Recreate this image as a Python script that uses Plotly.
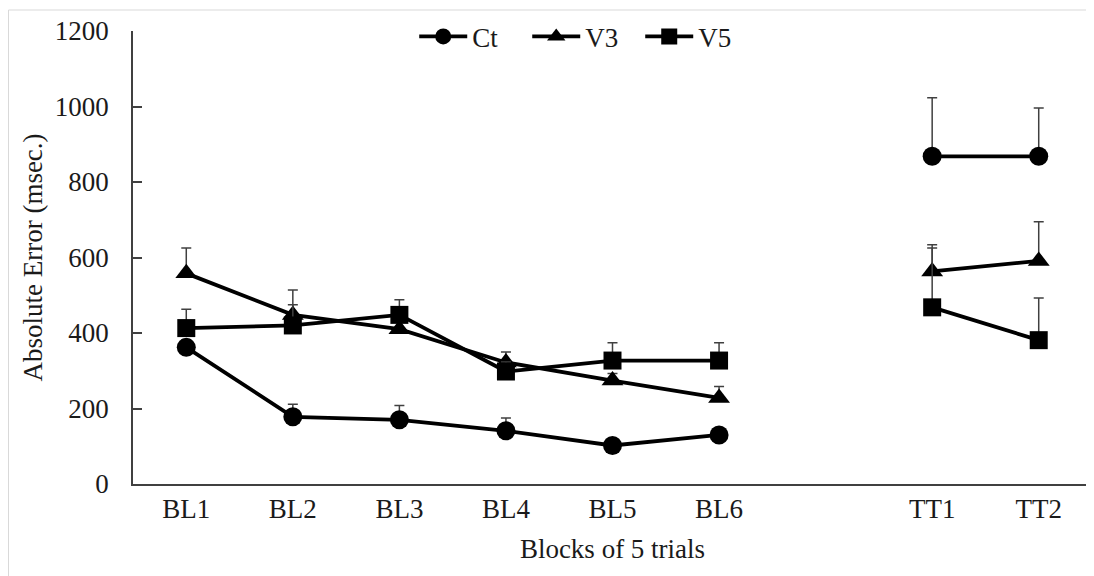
import plotly.graph_objects as go

categories = ["BL1", "BL2", "BL3", "BL4", "BL5", "BL6", " ", "TT1", "TT2"]

ct_values = [362, 178, 170, 141, 102, 130, None, 868, 868]
ct_err = [20, 33, 38, 34, 15, 15, 0, 155, 128]

v3_values = [558, 448, 410, 322, 274, 228, None, 563, 591]
v3_err = [67, 66, 20, 28, 19, 30, 0, 71, 104]

v5_values = [413, 420, 448, 298, 327, 327, None, 468, 381]
v5_err = [50, 55, 40, 25, 47, 47, 0, 157, 112]

series = [
    ("Ct", ct_values, ct_err, "circle", 19),
    ("V3", v3_values, v3_err, "triangle-up", 19),
    ("V5", v5_values, v5_err, "square", 18),
]

font_family = "Liberation Serif"
fig = go.Figure()
for name, vals, errs, sym, size in series:
    fig.add_trace(go.Scatter(
        x=categories, y=vals, name=name, mode="lines+markers",
        connectgaps=False,
        line=dict(color="black", width=3.8),
        marker=dict(symbol=sym, size=size, color="black"),
        error_y=dict(type="data", symmetric=False, array=errs,
                     arrayminus=[0] * len(errs), color="#404040",
                     thickness=1.5, width=5),
    ))

# page has an 8px body margin; figure is sized to fit the window
W, H = 1086, 568
L, R, T, B = 125, 2, 23, 92
PW, PH = W - L - R, H - T - B

fig.update_layout(
    width=W, height=H,
    margin=dict(l=L, r=R, t=T, b=B, autoexpand=False),
    paper_bgcolor="white", plot_bgcolor="white",
    font=dict(family=font_family, size=27, color="#1a1a1a"),
    showlegend=True,
    legend=dict(orientation="h", x=0.47, xanchor="center", y=0.987,
                yanchor="middle", itemwidth=48, itemsizing="trace",
                entrywidth=50,
                font=dict(size=27), bgcolor="rgba(0,0,0,0)",
                tracegroupgap=0, traceorder="normal"),
    shapes=[
        dict(type="line", xref="paper", yref="paper",
             x0=(0.5 - L) / PW, x1=(W - L) / PW,
             y0=(T + PH - 2) / PH, y1=(T + PH - 2) / PH,
             line=dict(color="#d9d9d9", width=1)),
        dict(type="line", xref="paper", yref="paper",
             x0=(0.5 - L) / PW, x1=(0.5 - L) / PW,
             y0=(T + PH - 2) / PH, y1=-B / PH,
             line=dict(color="#d9d9d9", width=1)),
    ],
)

fig.update_xaxes(
    type="category", categoryorder="array", categoryarray=categories,
    range=[-0.5, len(categories) - 0.5], automargin=False,
    showline=True, linecolor="#404040", linewidth=1.5,
    showgrid=False, zeroline=False, ticks="",
    ticklabelstandoff=0,
    tickfont=dict(size=27),
    title=dict(text="Blocks of 5 trials", font=dict(size=27), standoff=16),
)
fig.update_yaxes(
    range=[0, 1200], tickvals=[0, 200, 400, 600, 800, 1000, 1200],
    automargin=False,
    showline=True, linecolor="#404040", linewidth=1.5,
    showgrid=False, zeroline=False,
    ticks="inside", ticklen=9, tickcolor="#404040", tickwidth=1.5,
    ticklabelstandoff=17,
    tickfont=dict(size=27),
    title=dict(text="Absolute Error (msec.)", font=dict(size=27), standoff=4),
)

fig.write_html("out.html")
